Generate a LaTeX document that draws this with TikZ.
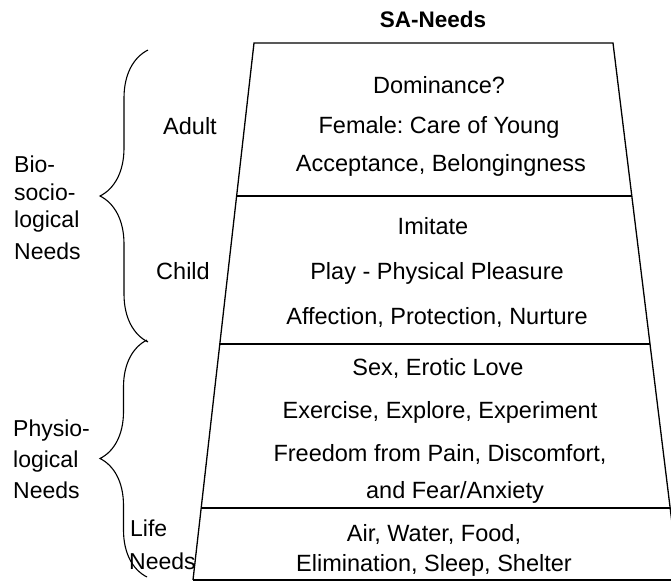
\documentclass[tikz,border=0pt]{standalone}
\usepackage{fontspec}
\setmainfont{Liberation Sans}
\usetikzlibrary{decorations.pathreplacing}
\frenchspacing
\begin{document}
\begin{tikzpicture}[x=1pt,y=-1pt,
  lbl/.style={anchor=base,inner sep=0pt,font=\fontsize{23.5}{28}\selectfont},
  lbll/.style={anchor=base west,inner sep=0pt,font=\fontsize{23}{28}\selectfont},
  edge/.style={line width=1.3pt,black},
  bracestyle/.style={line width=1.1pt,decorate,decoration={brace,amplitude=#1}}]
\useasboundingbox (0,0) rectangle (671,582);
% trapezoid corners and divider points
\coordinate (TL) at (254,43);
\coordinate (TR) at (613,43);
\coordinate (BL) at (193,580);
\coordinate (BR) at (679,580);
\coordinate (L1) at (236.8,196);
\coordinate (R1) at (631.7,196);
\coordinate (L2) at (220,344);
\coordinate (R2) at (649.5,344);
\coordinate (L3) at (201.5,508);
\coordinate (R3) at (670,508);
\draw[edge] (BL) -- (TL) -- (TR) -- (BR);
\draw[edge] (BL) -- (BR);
\draw[edge] (L1) -- (R1);
\draw[edge] (L2) -- (R2);
\draw[edge] (L3) -- (R3);
% title
\node[lbl,font=\fontsize{22.5}{27}\selectfont\bfseries] (title) at (433,27) {SA-Needs};
% box 1
\node[lbl] (a1) at (439,93) {Dominance?};
\node[lbl] (a2) at (439,133) {Female: Care of Young};
\node[lbl] (a3) at (441,171) {Acceptance, Belongingness};
% box 2
\node[lbl] (b1) at (433,234) {Imitate};
\node[lbl] (b2) at (437,279) {Play - Physical Pleasure};
\node[lbl] (b3) at (437,324) {Affection, Protection, Nurture};
% box 3
\node[lbl] (c1) at (438,375) {Sex, Erotic Love};
\node[lbl] (c2) at (440,418) {Exercise, Explore, Experiment};
\node[lbl] (c3) at (440,461) {Freedom from Pain, Discomfort,};
\node[lbl] (c4) at (455,498) {and Fear/Anxiety};
% box 4
\node[lbl] (d1) at (434,541) {Air, Water, Food,};
\node[lbl] (d2) at (434,571) {Elimination, Sleep, Shelter};
% side labels
\node[lbl] (adult) at (190,134) {Adult};
\node[lbl] (child) at (183,279) {Child};
\node[lbll] (s1) at (14,172) {Bio-};
\node[lbll] (s2) at (14,200) {socio-};
\node[lbll] (s3) at (14,227) {logical};
\node[lbll] (s4) at (14,259) {Needs};
\node[lbll] (p1) at (13,436) {Physio-};
\node[lbll] (p2) at (13,467) {logical};
\node[lbll] (p3) at (13,498) {Needs};
\node[lbll] (life1) at (130,536) {Life};
\node[lbll] (life2) at (129,569) {Needs};
% braces
\coordinate (bA1) at (148,342);
\coordinate (bA2) at (148,50);
\coordinate (bB1) at (147,577);
\coordinate (bB2) at (147,340);
\draw[bracestyle=48pt] (bA1) -- (bA2);
\draw[bracestyle=47pt] (bB1) -- (bB2);
\end{tikzpicture}
\end{document}
